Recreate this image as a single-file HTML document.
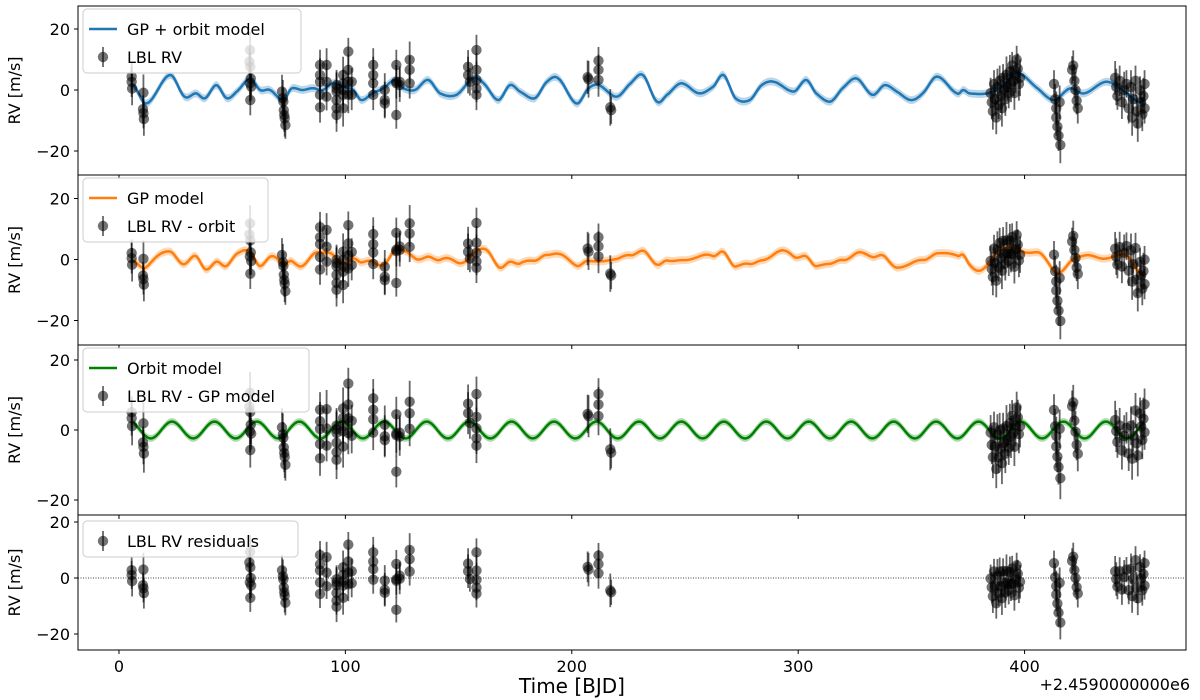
<!DOCTYPE html>
<html><head><meta charset="utf-8"><style>
html,body{margin:0;padding:0;background:#fff;}
svg{display:block;font-family:"DejaVu Sans","Liberation Sans",sans-serif;}
</style></head><body>
<svg id="chart" width="1200" height="700"></svg>
<script>
// ---- data ----
const times = [5.6,5.6,5.8,10.8,10.6,10.8,11,57.9,57.6,58,58.2,57.8,58.4,58,
72,72.4,72.6,72.8,73,73.2,73.5,88.8,88.8,88.8,88.8,88.8,91.7,91.7,91.7,
96.1,96.1,96.1,96.1,96.1,96.1,99,99,99,99,99,101.3,101.3,101.3,101.3,102.8,102.8,
112.3,112.3,112.3,112.3,117.4,117.4,117.4,122.5,122.5,122.5,122.5,124,124,128.4,128.4,128.4,
154.2,154.2,155,157.9,157.9,157.9,157.9,157.9,207,207.4,211.8,211.8,211.8,217,217.4,
385,385.5,386,386.5,387,387.5,388,388.5,389,389.5,390,390.5,391,391.5,392,392.5,393,393.5,394,394.5,395,395.5,396,396.5,397,397.5,398,
413,413.5,414,414,414.5,415,415.5,415.8,421,421.5,422,422.5,423,423.5,
440,440.5,441,442,443,444,445,446,447,447.5,448,449,449.5,450,451,451.5,452,452.5,453,453];
const rv = [4.4,2.7,0.5,-0.9,-6.3,-7.6,-9.5,13.1,9.3,7.6,3.8,2.2,1.1,-3.3,
-0.5,-2.7,-3.8,-6.6,-8.2,-9.3,-11.5,8.2,4.9,2.7,-1.6,-5.7,8.2,2.7,-2.2,
1.6,0.5,-0.5,-3.3,-6,-8.2,4.9,2.2,0,-1.6,-6,12.6,6.6,2.7,-1.6,2.7,-1.6,
8.2,4.9,2.2,-1.6,0,-3.3,-4.4,8.2,2.7,2.2,-8.2,2.7,1.6,9.9,6.6,2.2,
7.6,4.9,2.7,13.1,6.6,3.3,0.5,-1.6,4.2,3.5,9.6,6.6,3.3,-5.7,-6.6,
-1,-4,-7,2,-3,-9,1,-5,3,-2,-6,4,0,-3,5,1,-1,6,2,8,3,-1,5,10,7,2,4,
2,-3,-6,-9,-12,-15,-4,-18,6.6,8,3,0,-3.5,-6,
4,1,-2,3,-4,0,2,-6,1,-9,-3,3,-7,-11,0,-4,-8,-2,2,-6];
const errs = times.map((_,i)=>[4.5,5,5.5,6][i%4]);
// GP + orbit model knots (time, value)
const modelT = [6.2,12.2,22.5,29,34,38,43,47.6,52,58,62.3,66.7,72.5,76.2,81,85.7,90,94.5,99,103.5,107,112,116.8,122,125.5,130.7,136.5,141.8,149,156.5,161,167.5,172.7,177,183.7,189,194,202,207.4,211.8,219.8,226,231.4,237.6,242,248.3,256.3,262.5,267,272.3,278.6,283.9,289.2,298.1,303.5,307.9,314.2,319.5,325.7,332.8,338.2,343.5,349.8,355,361.3,370.2,372.9,375.6,383.6,389.8,397,405.8,413,420,426.3,436,443.2,450.3,453];
const modelV = [1.6,-4.4,4.9,-2.2,-1.1,-2.7,1.6,-2.7,-0.5,3.8,0,0,-3.3,0.5,0,0.6,0,2.2,1.1,0,-3.3,-1.1,0.6,3.3,0.6,0,3.3,-1.1,-1.6,3.8,2.2,-3.3,1.6,-0.5,-2.7,2.7,3.8,-4.4,0.5,1.6,-2.2,2.2,4.9,-3.8,-1.6,2.2,-1.1,1.1,4.9,-2.7,-3.3,1.6,2.7,-0.5,3.3,-1.1,-3.8,0.5,3.8,-1.6,1.6,-0.5,-3.3,-1.1,4.4,-1.1,0,-1.1,-1.1,1.1,5.5,0.5,-3.3,0.5,-1.1,2.7,0,-3.8,-3.3];
// Keplerian (circular) orbit parameters
const orbitK = [2.4];
const orbitP = [18.75];
const orbitTpeak = [23.4];
const xTicks = [0,100,200,300,400];
const yTicks = [20,0,-20];

// ---- helpers ----
const NS='http://www.w3.org/2000/svg';
const svg=document.getElementById('chart');
function mk(tag,attrs,parent){const e=document.createElementNS(NS,tag);for(const k in attrs)e.setAttribute(k,attrs[k]);(parent||svg).appendChild(e);return e;}
const X0=78,X1=1186,TMIN=-18.1,TMAX=471.3;
const xs=t=>X0+(t-TMIN)/(TMAX-TMIN)*(X1-X0);
function orbit(t){return orbitK[0]*Math.cos(2*Math.PI*(t-orbitTpeak[0])/orbitP[0]);}
function cr(p0,p1,p2,p3,u){return 0.5*((2*p1)+(-p0+p2)*u+(2*p0-5*p1+4*p2-p3)*u*u+(-p0+3*p1-3*p2+p3)*u*u*u);}
function model(t){
  const n=modelT.length;
  if(t<=modelT[0])return modelV[0];
  if(t>=modelT[n-1])return modelV[n-1];
  let i=0;while(modelT[i+1]<t)i++;
  const u=(t-modelT[i])/(modelT[i+1]-modelT[i]);
  const v0=modelV[Math.max(i-1,0)],v1=modelV[i],v2=modelV[i+1],v3=modelV[Math.min(i+2,n-1)];
  return cr(v0,v1,v2,v3,u);
}
const gp=t=>model(t)-orbit(t);
const resid=times.map((t,i)=>rv[i]-model(t));

const panels=[
 {top:6,bot:175,zero:90,scale:3.05,name:'panel-gp-orbit'},
 {top:175,bot:345,zero:259.5,scale:3.05,name:'panel-gp'},
 {top:345,bot:515,zero:430,scale:3.5,name:'panel-orbit'},
 {top:515,bot:650,zero:578,scale:2.8,name:'panel-residuals'}
];

function drawModel(g,p,f,color,band,name){
  const ys=v=>p.zero-v*p.scale;
  let up=[],dn=[],ln=[];
  for(let t=modelT[0];t<=modelT[modelT.length-1];t+=0.5){
    const v=f(t);up.push(xs(t).toFixed(1)+','+ys(v+band).toFixed(1));dn.unshift(xs(t).toFixed(1)+','+ys(v-band).toFixed(1));ln.push(xs(t).toFixed(1)+','+ys(v).toFixed(1));
  }
  const b=mk('polygon',{points:up.concat(dn).join(' '),fill:color,'fill-opacity':0.3,stroke:'none'},g);
  
  
  const l=mk('polyline',{points:ln.join(' '),fill:'none',stroke:color,'stroke-width':2.5,'stroke-linejoin':'round'},g);
  
  
}
function drawPoints(g,p,vals,name){
  const ys=v=>p.zero-v*p.scale;
  vals.forEach((v,i)=>{
    const x=xs(times[i]);
    const e=mk('line',{x1:x,x2:x,y1:ys(v+errs[i]),y2:ys(v-errs[i]),stroke:'#000','stroke-opacity':0.6,'stroke-width':1.8},g);
    
    
    const c=mk('circle',{cx:x,cy:ys(v),r:5.2,fill:'#000','fill-opacity':0.55},g);
    
    
  });
}
function legend(g,x,y,w,h,items){
  const r=mk('rect',{x:x,y:y,width:w,height:h,rx:4,fill:'#fff','fill-opacity':0.8,stroke:'#ccc'},g);
  
  
  items.forEach((it,i)=>{
    const cy=y+20+i*28;
    if(it.color){
      const l=mk('line',{x1:x+6,x2:x+34,y1:cy,y2:cy,stroke:it.color,'stroke-width':2.5},g);
      
      
    }else{
      const l=mk('line',{x1:x+20,x2:x+20,y1:cy-10,y2:cy+10,stroke:'#000','stroke-opacity':0.6,'stroke-width':1.8},g);
      
      
      const c=mk('circle',{cx:x+20,cy:cy,r:5.2,fill:'#000','fill-opacity':0.55},g);
      
      
    }
    const t=mk('text',{x:x+44,y:cy+6,'font-size':16,fill:'#000'},g);t.textContent=it.label;
    
    
  });
}

panels.forEach((p,pi)=>{
  const g=mk('g',{});
  
  
  const cid='clip'+pi;
  const cp=mk('clipPath',{id:cid},g);mk('rect',{x:X0,y:p.top,width:X1-X0,height:p.bot-p.top},cp);
  const inner=mk('g',{'clip-path':'url(#'+cid+')'},g);
  
  
  if(pi===0){drawModel(inner,p,model,'#1f77b4',1.3,'gp-orbit-model');drawPoints(inner,p,rv,'lbl-rv');}
  if(pi===1){drawModel(inner,p,gp,'#ff7f0e',1.3,'gp-model');drawPoints(inner,p,rv.map((v,i)=>v-orbit(times[i])),'lbl-rv-minus-orbit');}
  if(pi===2){drawModel(inner,p,orbit,'#008000',1.0,'orbit-model');drawPoints(inner,p,resid.map((v,i)=>v+orbit(times[i])),'lbl-rv-minus-gp');}
  if(pi===3){
    const z=mk('line',{x1:X0,x2:X1,y1:p.zero,y2:p.zero,stroke:'#000','stroke-width':0.8,'stroke-dasharray':'1,1.5'},inner);
    
    
    drawPoints(inner,p,resid,'lbl-rv-residuals');
  }
  const frame=mk('rect',{x:X0,y:p.top,width:X1-X0,height:p.bot-p.top,fill:'none',stroke:'#000','stroke-width':1},g);
  
  
  yTicks.forEach(v=>{
    const y=p.zero-v*p.scale;
    const tk=mk('line',{x1:X0-4,x2:X0,y1:y,y2:y,stroke:'#000'},g);
    
    
    const tl=mk('text',{x:X0-8,y:y+6,'font-size':16,'text-anchor':'end'},g);
    tl.textContent=v<0?'\u2212'+Math.abs(v):String(v);
    
    
  });
  xTicks.forEach(t=>{
    const tk=mk('line',{x1:xs(t),x2:xs(t),y1:p.bot,y2:p.bot+4,stroke:'#000'},g);
    
    
  });
  const yl=mk('text',{x:0,y:0,'font-size':16,'text-anchor':'middle',transform:'translate(20,'+((p.top+p.bot)/2)+') rotate(-90)'},g);
  yl.textContent='RV [m/s]';
  
  
  if(pi===0)legend(g,83,9,218,64,[{label:'GP + orbit model',color:'#1f77b4'},{label:'LBL RV'}]);
  if(pi===1)legend(g,83,178,185,64,[{label:'GP model',color:'#ff7f0e'},{label:'LBL RV - orbit'}]);
  if(pi===2)legend(g,83,348,226,64,[{label:'Orbit model',color:'#008000'},{label:'LBL RV - GP model'}]);
  if(pi===3)legend(g,83,521,215,36,[{label:'LBL RV residuals'}]);
});
xTicks.forEach(t=>{
  const tl=mk('text',{x:xs(t),y:672,'font-size':16,'text-anchor':'middle'});
  tl.textContent=String(t);
  
  
});
const xl=mk('text',{x:572,y:693,'font-size':20,'text-anchor':'middle'});
xl.textContent='Time [BJD]';


const off=mk('text',{x:1190,y:690,'font-size':16,'text-anchor':'end'});
off.textContent='+2.4590000000e6';


</script>
</body></html>
